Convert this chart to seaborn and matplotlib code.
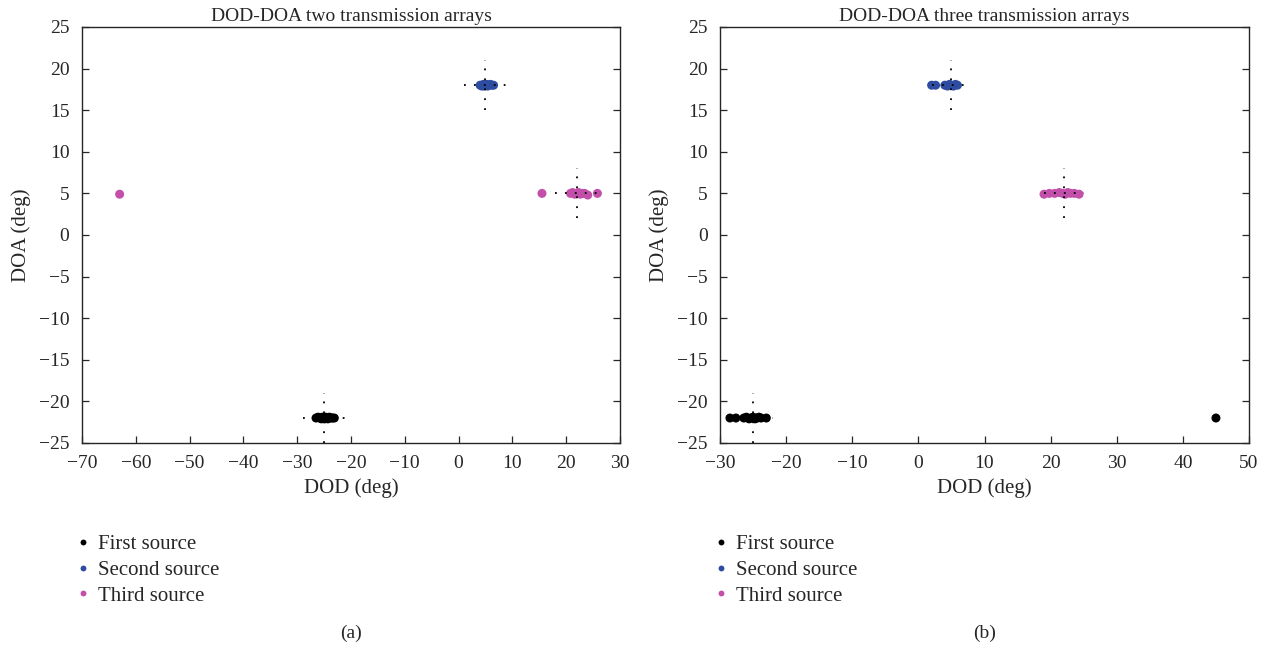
import matplotlib
matplotlib.use("Agg")
import matplotlib.pyplot as plt
import numpy as np
import pandas as pd
import seaborn as sns

sns.set_style("ticks")
plt.rcParams["font.family"] = ["Liberation Serif", "DejaVu Serif"]

SOURCES = ["First source", "Second source", "Third source"]
COLORS = ["#000000", "#2E4DA0", "#C250AA"]

# true positions (DOD, DOA) for the dotted crosshairs
TRUE_DOD = [-25, 5, 22]
TRUE_DOA = [-22, 18, 5]

# panel (a): two transmission arrays
a_first_dod = [-26.5, -26.1, -25.8, -25.5, -25.3, -25.1, -24.9, -24.7, -24.5, -24.3, -24.0, -23.7, -23.4, -23.1]
a_first_doa = [-22.0, -21.9, -22.0, -22.1, -21.9, -22.0, -22.1, -21.9, -22.0, -22.1, -21.9, -22.0, -22.0, -22.0]
a_second_dod = [4.0, 4.3, 4.6, 4.8, 5.0, 5.2, 5.4, 5.6, 5.9, 6.2, 6.5]
a_second_doa = [18.0, 17.9, 18.1, 17.9, 18.0, 18.1, 17.9, 18.0, 18.1, 18.0, 18.0]
a_third_dod = [-63.0, 15.5, 20.8, 21.2, 21.6, 22.0, 22.3, 22.6, 23.0, 23.4, 24.0, 25.8]
a_third_doa = [4.9, 5.0, 5.0, 5.1, 4.9, 5.0, 5.1, 4.9, 5.0, 5.0, 4.8, 5.0]

# panel (b): three transmission arrays
b_first_dod = [-28.5, -27.6, -26.4, -26.0, -25.6, -25.3, -25.0, -24.7, -24.4, -24.1, -23.8, -23.0, 45.0]
b_first_doa = [-22.0, -22.0, -22.0, -21.9, -22.1, -22.0, -21.9, -22.1, -22.0, -21.9, -22.0, -22.0, -22.0]
b_second_dod = [2.0, 2.6, 4.0, 4.4, 4.7, 5.0, 5.3, 5.6, 5.9]
b_second_doa = [18.0, 18.0, 18.0, 17.9, 18.1, 18.0, 17.9, 18.1, 18.0]
b_third_dod = [19.0, 19.8, 20.6, 21.3, 21.8, 22.2, 22.6, 23.0, 23.6, 24.3]
b_third_doa = [4.9, 5.0, 5.0, 5.1, 5.0, 4.9, 5.1, 5.0, 5.0, 4.9]


def frame(dods, doas):
    rows = []
    for name, x, y in zip(SOURCES, dods, doas):
        rows.append(pd.DataFrame({"DOD": x, "DOA": y, "source": name}))
    return pd.concat(rows, ignore_index=True)


df_a = frame([a_first_dod, a_second_dod, a_third_dod], [a_first_doa, a_second_doa, a_third_doa])
df_b = frame([b_first_dod, b_second_dod, b_third_dod], [b_first_doa, b_second_doa, b_third_doa])

fig = plt.figure(figsize=(12.71, 6.5), dpi=100)
ax_a = fig.add_axes([0.0645, 0.3185, 0.4233, 0.64])
ax_b = fig.add_axes([0.5665, 0.3185, 0.4162, 0.64])

panels = [
    (ax_a, df_a, "DOD-DOA two transmission arrays", (-70, 30), 4.0, "(a)"),
    (ax_b, df_b, "DOD-DOA three transmission arrays", (-30, 50), 3.0, "(b)"),
]

for ax, df, title, xlim, hw, tag in panels:
    # dotted crosshair at the true positions
    for x0, y0 in zip(TRUE_DOD, TRUE_DOA):
        ax.plot([x0, x0], [y0 - 3, y0 + 3], color="black", lw=1.3,
                linestyle=(0, (1, 4.5)), zorder=3)
        ax.plot([x0 - hw, x0 + hw], [y0, y0], color="black", lw=1.3,
                linestyle=(0, (1, 4.5)), zorder=3)
    sns.scatterplot(data=df, x="DOD", y="DOA", hue="source", hue_order=SOURCES,
                    palette=COLORS, s=42, edgecolor="none", ax=ax, zorder=2,
                    legend=True)
    ax.set_xlim(*xlim)
    ax.set_ylim(-25, 25)
    ax.set_xticks(np.arange(xlim[0], xlim[1] + 1, 10))
    ax.set_yticks(np.arange(-25, 26, 5))
    ax.set_xticklabels([str(int(t)).replace("-", "\u2212") for t in ax.get_xticks()])
    ax.set_yticklabels([str(int(t)).replace("-", "\u2212") for t in ax.get_yticks()])
    ax.tick_params(direction="in", top=False, right=True, labelsize=14,
                   length=5, width=0.9)
    ax.tick_params(axis="x", pad=9)
    ax.tick_params(axis="y", pad=9)
    for sp in ax.spines.values():
        sp.set_linewidth(1.0)
    ax.set_xlabel("DOD (deg)", fontsize=15, labelpad=4)
    ax.set_ylabel("DOA (deg)", fontsize=15, labelpad=6)
    ax.set_title(title, fontsize=14, pad=4)
    handles, labels = ax.get_legend_handles_labels()
    ax.legend(handles, labels, loc="upper left", bbox_to_anchor=(-0.03, -0.2),
              frameon=False, fontsize=15, markerscale=0.65, handlelength=0.8,
              handletextpad=0.35, labelspacing=0.3, borderaxespad=0)
    pos = ax.get_position()
    fig.text(pos.x0 + pos.width / 2, 0.012, tag, ha="center", va="bottom", fontsize=14)

fig.savefig("out.png", dpi=100)
